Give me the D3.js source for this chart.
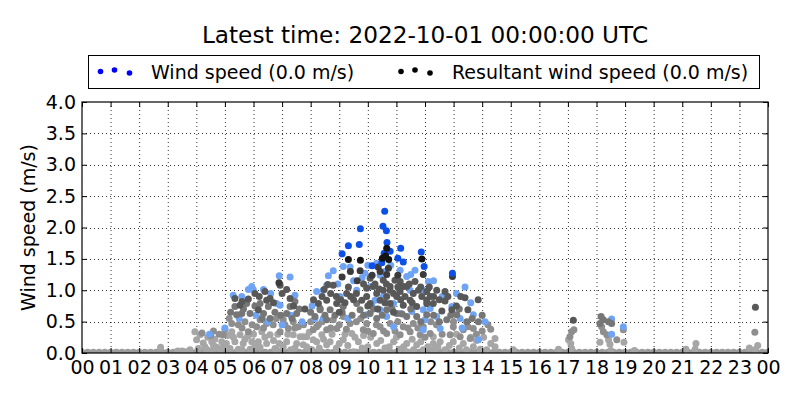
<!DOCTYPE html>
<html><head><meta charset="utf-8">
<script src="https://cdn.jsdelivr.net/npm/d3@7"></script>
<style>
html,body{margin:0;padding:0;background:#fff;}
text{font-family:"DejaVu Sans",sans-serif;}
</style></head>
<body><svg id="c" width="800" height="400"></svg>
<script>
const titleText = "Latest time: 2022-10-01 00:00:00 UTC";
const legendLabels = ["Wind speed (0.0 m/s)", "Resultant wind speed (0.0 m/s)"];
const yLabel = "Wind speed (m/s)";
const hourLabels = ["00","01","02","03","04","05","06","07","08","09","10","11","12","13","14","15","16","17","18","19","20","21","22","23","00"];
const yTicks = [0,0.5,1,1.5,2,2.5,3,3.5,4];

// calm observations (0.0 m/s) across the day
const calmHours = [0,0.2,0.4,0.6,0.8,1,1.2,1.4,1.6,1.8,2,2.2,2.4,2.6,2.8,3,3.2,3.4,3.6,3.8,4,4.2,4.4,4.6,4.8,5,5.2,5.4,5.6,5.8,6,6.2,6.4,6.6,6.8,7,7.2,7.4,7.6,7.8,8,8.2,8.4,8.6,8.8,9,9.2,9.4,9.6,9.8,10,10.2,10.4,10.6,10.8,11,11.2,11.4,11.6,11.8,12,12.2,12.4,12.6,12.8,13,13.2,13.4,13.6,13.8,14,14.2,14.4,14.6,14.8,15,15.2,15.4,15.6,15.8,16,16.2,16.4,16.6,16.8,17,17.2,17.4,17.6,17.8,18,18.2,18.4,18.6,18.8,19,19.2,19.4,19.6,19.8,20,20.2,20.4,20.6,20.8,21,21.2,21.4,21.6,21.8,22,22.2,22.4,22.6,22.8,23,23.2,23.4,23.6,23.8,24];

// [hour, m/s] — oldest (lightest) to newest
const pointsLightGrey = [[2.75,0.09],[3.35,0.03],[3.5,0.03],[3.62,0.02],[3.78,0.05],[4.07,0.07],[4.36,0.06],[4.71,0.09],[4.83,0.06],[4.01,0.21],[4.24,0.16],[4.54,0.18],[4.89,0.18],[4.13,0.29],[3.95,0.34],[4.6,0.12],[4.4,0.25],[4.95,0.1],
[5.18,0.07],[5.47,0.06],[5.88,0.06],[5.35,0.18],[5.64,0.15],[5.94,0.18],[5.53,0.29],[5.24,0.34],[6.17,0.18],[6.46,0.15],[6.75,0.07],[6.23,0.09],[6.58,0.29],[6.29,0.34],[7.16,0.18],[7.51,0.15],[6.81,0.05],[7.74,0.13],[7.86,0.26],[7.63,0.26],[7.39,0.29],[7.04,0.1],[6.0,0.3],[5.7,0.22],[7.3,0.05],
[8.21,0.18],[8.56,0.13],[8.04,0.05],[8.09,0.21],[8.68,0.18],[9.14,0.21],[9.5,0.02],[7.74,0.26],[7.86,0.10],[9.44,0.31],[8.39,0.29],[8.9,0.08],[9.3,0.12],[9.67,0.18],
[10.31,0.15],[10.9,0.18],[11.36,0.15],[11.71,0.13],[12.29,0.15],[11.36,0.02],[11.94,0.05],[12.35,0.02],[10.6,0.08],[10.0,0.1],[11.1,0.06],
[12.29,0.26],[12.53,0.18],[12.99,0.18],[13.34,0.15],[13.69,0.10],[13.93,0.06],[14.45,0.23],[14.45,0.10],[14.16,0.05],[12.29,0.05],[12.70,0.05],[15.09,0.05],[13.6,0.25],[13.1,0.3],
[16.67,0.06],[17.13,0.07],[17.10,0.15],[17.02,0.21],[18.47,0.14],[18.12,0.17],[18.96,0.17],[19.33,0.04],[18.5,0.04],[21.13,0.06],[21.48,0.15],[21.45,0.06],[23.64,0.12],[23.35,0.08],[23.55,0.05],[18.42,0.21],
[4.3,0.1],[4.65,0.22],[5.05,0.15],[5.3,0.25],[5.6,0.05],[5.8,0.27],[6.05,0.1],[6.4,0.25],[6.7,0.2],[6.9,0.15],[7.2,0.3],[7.45,0.08],[7.95,0.33],[8.3,0.08],[8.45,0.22],[8.75,0.3],[9.0,0.15],[9.2,0.3],[9.55,0.25],[9.8,0.08],[10.1,0.25],[10.45,0.2],[10.75,0.1],[11.0,0.25],[11.25,0.1],[11.55,0.22],[11.85,0.18],[12.1,0.1],[12.45,0.1],[12.85,0.12],[13.2,0.08],[13.45,0.05],[13.8,0.2],[14.3,0.15],[14.05,0.25],[4.55,0.03],[5.1,0.28],[6.85,0.3],[9.85,0.28],[11.6,0.05]];

const pointsGrey = [[4.2,0.32],[4.5,0.28],[4.8,0.3],[4.94,0.29],[5.24,0.47],[5.47,0.45],[5.70,0.50],[5.82,0.34],[6.23,0.53],[6.46,0.47],[6.69,0.45],[6.11,0.42],[6.93,0.34],[7.22,0.39],[7.57,0.42],[7.39,0.50],[7.04,0.53],[8.09,0.37],[8.27,0.45],[8.56,0.37],[8.91,0.39],[8.21,0.42],[9.38,0.47],[9.14,0.58],[8.79,0.53],[9.84,0.37],[10.19,0.31],[10.66,0.31],[11.13,0.29],[11.48,0.34],[11.83,0.29],[12.18,0.31],[9.96,0.47],[10.43,0.42],[10.78,0.47],[11.24,0.42],[11.59,0.47],[11.94,0.42],[12.99,0.42],[13.34,0.37],[13.69,0.39],[12.88,0.29],[13.23,0.26],[13.58,0.23],[17.07,0.26],[17.13,0.34],[18.24,0.34],[18.36,0.29],[18.71,0.21],[18.18,0.42],[18.94,0.37],[23.54,0.33],[17.21,0.37],[14.0,0.35],[14.2,0.45],
[4.6,0.35],[5.0,0.38],[5.15,0.55],[5.6,0.4],[5.95,0.45],[6.35,0.4],[6.8,0.55],[7.1,0.45],[7.45,0.4],[7.75,0.45],[8.0,0.5],[8.4,0.5],[8.7,0.4],[9.0,0.45],[9.25,0.38],[9.6,0.5],[9.75,0.55],[10.0,0.35],[10.3,0.45],[10.55,0.35],[10.95,0.35],[11.05,0.5],[11.4,0.4],[11.75,0.4],[12.0,0.25],[12.4,0.45],[12.6,0.3],[13.0,0.5],[13.5,0.42],[13.8,0.3],[14.3,0.38],[12.2,0.5]];

const pointsLightBlue = [[4.46,0.30],[5.29,0.92],[5.82,1.01],[5.94,1.06],[5.59,0.90],[5.99,1.01],[6.35,1.01],[6.81,0.79],[6.90,1.23],[7.28,1.21],[7.45,0.92],[6.93,0.76],[8.21,0.98],[8.44,1.0],[8.56,1.08],[8.62,1.23],[8.15,0.55],[8.44,0.55],[8.79,1.31],[9.38,1.37],[9.03,0.90],[9.61,1.0],[9.90,1.27],[10.31,1.43],[10.43,1.24],[11.13,1.32],[11.36,1.22],[11.65,1.32],[10.08,1.06],[11.48,1.0],[10.54,0.90],[10.25,0.84],[10.90,0.79],[11.94,1.0],[10.14,0.76],[10.43,0.69],[11.13,0.63],[11.54,0.66],[11.94,0.69],[10.66,0.58],[9.96,0.61],[12.18,0.71],[10.90,0.42],[12.12,1.14],[13.40,1.05],[12.94,0.74],[14.1,0.50],[13.69,0.61],[12.41,0.58],[13.23,0.55],[11.94,0.37],[12.53,0.39],[13.87,0.21],[12.0,0.53],[18.53,0.54],[18.53,0.30],[18.94,0.42],[9.14,1.38],[7.0,0.45],[6.6,0.95],[5.5,0.55],
[5.0,0.4],[6.1,0.6],[6.5,0.5],[7.3,0.6],[7.7,0.5],[8.05,0.75],[8.95,1.1],[9.5,1.15],[9.8,1.2],[10.0,1.4],[10.6,1.3],[10.8,1.4],[11.5,1.25],[12.3,1.15],[12.6,0.9],[13.1,0.95],[13.6,0.8],[13.3,0.4],[9.3,0.55]];

const pointsMidGrey = [[5.41,0.61],[5.59,0.63],[5.88,0.63],[5.76,0.79],[5.35,0.74],[6.35,0.63],[6.23,0.79],[6.52,0.74],[6.58,0.55],[7.16,0.63],[7.51,0.63],[7.28,0.74],[7.45,0.82],[8.33,0.69],[8.68,0.69],[9.14,0.74],[8.15,0.58],[8.56,0.53],[8.33,0.71],[9.61,0.79],[9.73,0.69],[10.08,0.63],[10.31,0.55],[10.66,0.69],[11.01,0.63],[11.36,0.58],[11.71,0.58],[12.06,0.61],[12.76,0.53],[13.11,0.61],[13.46,0.50],[13.87,0.50],[18.12,0.47],[18.42,0.50],[18.24,0.53],[18.16,0.58],[18.53,0.47],
[5.2,0.65],[5.65,0.7],[6.05,0.75],[6.3,0.55],[6.75,0.65],[6.95,0.6],[7.35,0.55],[7.6,0.7],[8.0,0.65],[8.5,0.6],[8.85,0.6],[9.1,0.65],[9.45,0.6],[9.85,0.6],[10.2,0.7],[10.5,0.6],[10.85,0.7],[11.2,0.62],[11.5,0.7],[11.85,0.5],[12.3,0.6],[12.5,0.5],[12.9,0.6],[13.2,0.7],[13.65,0.55],[14.0,0.6]];

const pointsDarkGrey = [[5.35,0.87],[5.53,0.76],[5.82,0.86],[6.05,0.95],[6.40,0.98],[6.46,0.84],[6.58,0.87],[6.17,0.69],[6.93,1.08],[7.16,1.01],[7.28,0.87],[8.27,0.79],[8.56,0.84],[8.91,0.79],[9.26,0.95],[9.32,1.05],[8.47,1.01],[8.79,1.08],[8.60,1.09],[9.96,1.03],[10.08,1.19],[10.78,1.06],[10.95,1.16],[11.13,1.14],[11.24,1.06],[11.36,1.06],[10.78,1.0],[11.13,0.98],[10.54,1.0],[10.31,0.95],[10.19,1.06],[10.54,1.16],[11.77,1.0],[11.59,0.95],[11.89,0.90],[11.48,0.84],[11.01,0.90],[10.66,0.90],[9.96,0.90],[9.79,0.84],[10.08,0.79],[10.43,0.84],[10.78,0.79],[11.24,0.76],[11.71,0.74],[12.06,0.79],[12.18,0.90],[12.06,0.98],[12.06,0.84],[12.29,0.79],[12.59,0.67],[12.94,0.69],[13.5,0.69],[12.70,0.83],[13.40,0.88],[13.86,0.85],[12.41,1.0],[12.70,0.98],[11.65,1.14],[23.56,0.73],[17.19,0.52],[9.5,0.85],[9.0,0.65],[7.8,0.7],
[5.6,0.82],[6.2,0.9],[6.7,0.8],[7.0,0.95],[7.4,0.75],[8.1,0.85],[8.4,0.9],[8.7,0.95],[9.05,0.85],[9.4,0.9],[9.6,0.95],[9.85,1.1],[10.0,0.75],[10.25,1.1],[10.4,1.02],[10.6,0.8],[10.65,1.1],[10.9,0.95],[11.05,1.05],[11.3,0.9],[11.45,1.1],[11.55,0.8],[11.85,1.05],[12.15,1.05],[12.3,0.9],[12.5,0.85],[12.8,0.9],[13.1,0.75],[13.25,0.9],[10.35,0.7],[10.9,0.65],[11.15,0.85],[9.2,0.8],[8.9,0.9]];

const pointsDarker = [[6.89,1.12],[10.36,1.37],[9.39,1.30],[9.73,1.31],[9.10,1.21],[10.66,1.25],[11.94,1.25],[10.15,1.24],[9.63,1.15],[11.05,1.24],[12.96,1.22],[10.43,1.30],[10.72,1.35]];

const pointsBlue = [[10.59,2.26],[10.53,2.02],[10.65,1.95],[9.74,1.98],[10.67,1.76],[9.32,1.71],[9.70,1.73],[11.15,1.67],[10.57,1.59],[9.10,1.58],[11.87,1.61],[10.78,1.62],[11.97,1.38],[12.96,1.27],[11.24,1.45],[11.05,1.51],[10.15,1.39],[10.49,1.44]];

const pointsBlack = [[10.66,1.67],[11.89,1.50],[9.32,1.49],[9.74,1.48],[10.73,1.49],[10.51,1.51],[10.62,1.55]];

const groups = [
  {data: calmHours.map(h => [h, 0]), color: "#9c9c9c"},
  {data: pointsLightGrey, color: "#a6a6a6"},
  {data: pointsGrey, color: "#8e8e8e"},
  {data: pointsLightBlue, color: "#6fa4f4"},
  {data: pointsMidGrey, color: "#767676"},
  {data: pointsDarkGrey, color: "#585858"},
  {data: pointsDarker, color: "#3b3b3b"},
  {data: pointsBlue, color: "#0c50e8"},
  {data: pointsBlack, color: "#141414"}
];

const L = 82, R = 768, T = 102, B = 353;
const svg = d3.select("#c");
const x = d3.scaleLinear().domain([0,24]).range([L,R]);
const y = d3.scaleLinear().domain([0,4]).range([B,T]);
const hourTicks = hourLabels.map((d,i) => i);

svg.append("defs").append("clipPath").attr("id","clip")
  .append("rect").attr("x",L).attr("y",T).attr("width",R-L).attr("height",B-T);

// grid
const grid = svg.append("g").attr("stroke","#000").attr("stroke-width",0.8).attr("stroke-dasharray","1,3");
grid.selectAll("line.v").data(hourTicks.slice(1,-1)).join("line")
  .attr("x1",d=>x(d)+0.5).attr("x2",d=>x(d)+0.5).attr("y1",T).attr("y2",B);
grid.selectAll("line.h").data(yTicks.slice(1,-1)).join("line")
  .attr("y1",d=>Math.round(y(d))+0.5).attr("y2",d=>Math.round(y(d))+0.5).attr("x1",L).attr("x2",R);

// points
const pts = svg.append("g").attr("clip-path","url(#clip)");
groups.forEach((g,gi) => {
  pts.append("g").selectAll("circle").data(g.data).join("circle")
    .attr("cx",d=>x(d[0])).attr("cy",d=>y(d[1])).attr("r", gi===0 ? 4.3 : 3.5).attr("fill",g.color);
});

// axes
const fs = 19;
const ax = svg.append("g").attr("transform",`translate(0,${B})`)
  .call(d3.axisBottom(x).tickValues(hourTicks).tickFormat((d,i)=>hourLabels[i]).tickSize(-5).tickPadding(8));
const ay = svg.append("g").attr("transform",`translate(${L},0)`)
  .call(d3.axisLeft(y).tickValues(yTicks).tickFormat(d3.format(".1f")).tickSize(-5).tickPadding(6));
const at = svg.append("g").attr("transform",`translate(0,${T})`)
  .call(d3.axisTop(x).tickValues(hourTicks).tickFormat("").tickSize(-5));
const ar = svg.append("g").attr("transform",`translate(${R},0)`)
  .call(d3.axisRight(y).tickValues(yTicks).tickFormat("").tickSize(-5));
[ax,ay,at,ar].forEach(a => {
  a.select(".domain").remove();
  a.selectAll("line").attr("stroke","#000").attr("stroke-width",1);
  a.selectAll("text").attr("font-size",fs).attr("fill","#000").attr("font-family","DejaVu Sans");
});

svg.append("rect").attr("x",L).attr("y",T).attr("width",R-L).attr("height",B-T)
  .attr("fill","none").attr("stroke","#000").attr("stroke-width",1.2);

// y label
svg.append("text").attr("transform",`translate(28,${(T+B)/2}) rotate(-90)`)
  .attr("text-anchor","middle").attr("dy","0.35em").attr("font-size",fs).text(yLabel);

// title
svg.append("text").attr("x",(L+R)/2).attr("y",43).attr("text-anchor","middle")
  .attr("font-size",23.2).text(titleText);

// legend
const lg = svg.append("g");
lg.append("rect").attr("x",88.5).attr("y",55.5).attr("width",671).attr("height",33)
  .attr("fill","#fff").attr("stroke","#000").attr("stroke-width",1);
const legendColors = ["#0000ff","#000000"];
const legendX = [100.5, 401];
const legendTextX = [151, 452];
const markerOffsets = [[0,71.5],[14,70],[29,73]];
legendLabels.forEach((lab,i) => {
  markerOffsets.forEach(m => {
    lg.append("circle").attr("cx",legendX[i]+m[0]).attr("cy",m[1]).attr("r",2.8).attr("fill",legendColors[i]);
  });
  lg.append("text").attr("x",legendTextX[i]).attr("y",72).attr("dy","0.35em").attr("font-size",fs).text(lab);
});
</script></body></html>
